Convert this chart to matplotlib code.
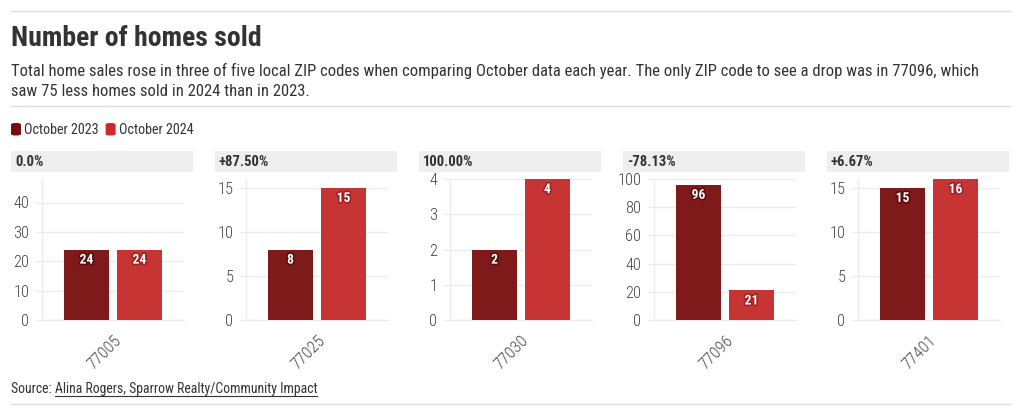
import matplotlib
matplotlib.use("Agg")
import matplotlib.pyplot as plt
import matplotlib.patheffects as pe
from matplotlib.patches import Rectangle, FancyBboxPatch
from matplotlib.lines import Line2D
from matplotlib import font_manager

# ---------------- data ----------------
zip_codes = ["77005", "77025", "77030", "77096", "77401"]
sales_2023 = [24, 8, 2, 96, 15]
sales_2024 = [24, 15, 4, 21, 16]
pct_change = ["0.0%", "+87.50%", "100.00%", "-78.13%", "+6.67%"]
y_max = [48, 16, 4, 100, 16]
y_step = [10, 5, 1, 20, 5]
series_names = ["October 2023", "October 2024"]

title = "Number of homes sold"
subtitle_lines = [
    "Total home sales rose in three of five local ZIP codes when comparing October data each year. The only ZIP code to see a drop was in 77096, which",
    "saw 75 less homes sold in 2024 than in 2023.",
]
source_prefix = "Source: "
source_link = "Alina Rogers, Sparrow Realty/Community Impact"

# ---------------- style ----------------
names = {f.name for f in font_manager.fontManager.ttflist}
COND = "Roboto Condensed" in names
FAM = ["Roboto Condensed", "Roboto", "DejaVu Sans"] if COND else ["Roboto", "DejaVu Sans"]
plt.rcParams["font.family"] = FAM
k = 1.0 if COND else 0.87  # shrink sizes if no condensed face

C_DARK = "#7f1a1a"
C_LIGHT = "#c73434"
C_DARK_HALO = "#5a0c0c"
C_LIGHT_HALO = "#9e2020"
C_LEG_DARK = "#7a0e0e"
C_LEG_LIGHT = "#cf2828"
GRID = "#ececec"
TXT = "#333333"
TICK = "#444444"

W, H = 1020, 416
fig = plt.figure(figsize=(W / 100, H / 100), dpi=100)
fig.patch.set_facecolor("white")


def fx(x):
    return x / W


def fy(y):
    return 1 - y / H


# rules
for yy in (11, 106, 404):
    fig.add_artist(Line2D([fx(11), fx(1010)], [fy(yy), fy(yy)], color="#dcdcdc", lw=1.0))

fig.text(fx(11), fy(45.5), title, fontsize=20 * k, fontweight="bold", color=TXT, va="baseline")
fig.text(fx(11), fy(76), subtitle_lines[0], fontsize=12.0 * k, color=TXT, va="baseline")
fig.text(fx(11), fy(95.5), subtitle_lines[1], fontsize=12.0 * k, color=TXT, va="baseline")

# legend
fig.canvas.draw()
rend = fig.canvas.get_renderer()
lx = 11
for name, col in zip(series_names, [C_LEG_DARK, C_LEG_LIGHT]):
    fig.add_artist(FancyBboxPatch((fx(lx), fy(135.5)), fx(10), 12.5 / H,
                                  boxstyle="round,pad=0,rounding_size=0.004",
                                  facecolor=col, edgecolor="none", transform=fig.transFigure))
    t = fig.text(fx(lx + 13), fy(134), name, fontsize=10.2 * k, color=TXT, va="baseline")
    bb = t.get_window_extent(rend)
    lx = bb.x1 + 7

# panels
for i in range(len(zip_codes)):
    pl = 11 + 204 * i
    fig.add_artist(Rectangle((fx(pl), fy(172)), fx(182), 21 / H, facecolor="#eeeeee",
                             edgecolor="none", transform=fig.transFigure))
    fig.text(fx(pl + 4), fy(166), pct_change[i], fontsize=10.5 * k, fontweight="bold",
             color=TXT, va="baseline")

    ax = fig.add_axes([fx(pl + 31), fy(320), fx(142), 141 / H])
    xs = [-0.5, 0.5]
    vals = [sales_2023[i], sales_2024[i]]
    ax.bar(xs, vals, width=0.85, color=[C_DARK, C_LIGHT], zorder=3)
    for x, v, halo in zip(xs, vals, [C_DARK_HALO, C_LIGHT_HALO]):
        ax.annotate(str(v), (x, v), xytext=(0, -7.3), textcoords="offset points",
                    ha="center", va="center", color="white", fontsize=9.8 * k,
                    fontweight="bold", zorder=4,
                    path_effects=[pe.withStroke(linewidth=2.2, foreground=halo)])
    ax.set_xlim(-1.34, 1.34)
    ax.set_ylim(0, y_max[i])
    ticks = list(range(0, y_max[i] + 1, y_step[i]))
    ax.set_yticks(ticks)
    ax.set_xticks([0])
    ax.set_xticklabels([zip_codes[i]], rotation=45, ha="right", rotation_mode="anchor")
    ax.tick_params(axis="y", length=5, color=GRID, labelcolor=TICK, labelsize=11.8 * k, pad=4)
    ax.tick_params(axis="x", length=0, labelcolor=TICK, labelsize=12.0 * k, pad=9)
    for lab in ax.get_yticklabels() + ax.get_xticklabels():
        lab.set_fontweight("light")
    ax.grid(axis="y", color=GRID, lw=1.0, zorder=0)
    for s in ["top", "right"]:
        ax.spines[s].set_visible(False)
    for s in ["left", "bottom"]:
        ax.spines[s].set_color(GRID)
        ax.spines[s].set_linewidth(1.0)
    ax.set_facecolor("none")

# source with underlined link
t1 = fig.text(fx(11), fy(393), source_prefix, fontsize=9.9 * k, color=TXT, va="baseline")
fig.canvas.draw()
bb = t1.get_window_extent(rend)
t2 = fig.text(bb.x1 / W, fy(393), source_link, fontsize=9.9 * k, color=TXT, va="baseline")
fig.canvas.draw()
bb2 = t2.get_window_extent(rend)
fig.add_artist(Line2D([bb2.x0 / W, bb2.x1 / W], [fy(396), fy(396)], color=TXT, lw=0.8))

fig.savefig("out.png", dpi=100)
